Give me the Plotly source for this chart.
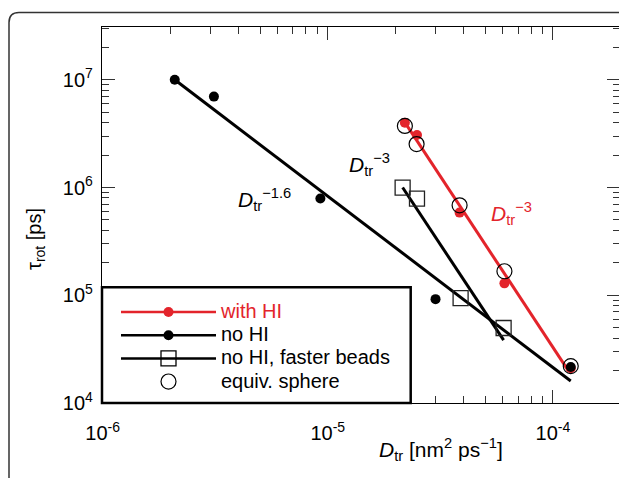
import plotly.graph_objects as go

# rotational correlation time vs translational diffusion coefficient
no_hi_D = [2.09e-6, 3.12e-6, 9.27e-6, 3.01e-5, 1.20e-4]
no_hi_tau = [1.0e7, 6.98e6, 7.9e5, 9.2e4, 2.16e4]

with_hi_D = [2.20e-5, 2.49e-5, 3.85e-5, 6.09e-5, 1.20e-4]
with_hi_tau = [4.0e6, 3.07e6, 5.85e5, 1.29e5, 2.1e4]

faster_D = [2.15e-5, 2.49e-5, 3.89e-5, 6.04e-5]
faster_tau = [1.0e6, 7.9e5, 9.4e4, 4.97e4]

sphere_D = [2.20e-5, 2.48e-5, 3.85e-5, 6.09e-5, 1.20e-4]
sphere_tau = [3.73e6, 2.53e6, 6.84e5, 1.67e5, 2.2e4]

# power-law fit lines (end points)
fit_nohi_D = [2.09e-6, 1.20e-4]
fit_nohi_tau = [1.0e7, 1.6e4]
fit_hi_D = [2.17e-5, 1.17e-4]
fit_hi_tau = [4.2e6, 2.0e4]
fit_faster_D = [2.15e-5, 6.04e-5]
fit_faster_tau = [1.0e6, 3.83e4]

x_ticks = [1e-6, 1e-5, 1e-4]
x_ticktext = ['10<sup>-6</sup>', '10<sup>-5</sup>', '10<sup>-4</sup>']
y_ticks = [1e4, 1e5, 1e6, 1e7]
y_ticktext = ['10<sup>4</sup>', '10<sup>5</sup>', '10<sup>6</sup>', '10<sup>7</sup>']

RED = '#e3242b'
FONT = 'Liberation Sans, Arial, sans-serif'

# the page body adds an 8px margin, so the figure is drawn 8px smaller
OFF = 8
W, H = 627 - OFF, 478 - OFF
L, R, T, B = 102 - OFF, 7, 27 - OFF, 75
PW, PH = W - L - R, H - T - B


# positions below are given in pixels of the reference picture
def px(x):
    return (x - 102) / PW


def py(y):
    return (403 - y) / PH


fig = go.Figure()

# fit lines
fig.add_trace(go.Scatter(x=fit_hi_D, y=fit_hi_tau, mode='lines',
                         line=dict(color=RED, width=3), showlegend=False))
fig.add_trace(go.Scatter(x=fit_nohi_D, y=fit_nohi_tau, mode='lines',
                         line=dict(color='black', width=3), showlegend=False))
fig.add_trace(go.Scatter(x=fit_faster_D, y=fit_faster_tau, mode='lines',
                         line=dict(color='black', width=3), showlegend=False))

# data points
fig.add_trace(go.Scatter(x=with_hi_D, y=with_hi_tau, mode='markers',
                         marker=dict(color=RED, size=10), showlegend=False))
fig.add_trace(go.Scatter(x=no_hi_D, y=no_hi_tau, mode='markers',
                         marker=dict(color='black', size=10), showlegend=False))
fig.add_trace(go.Scatter(x=faster_D, y=faster_tau, mode='markers',
                         marker=dict(symbol='square-open', color='#222', size=15,
                                     line=dict(width=1.3)),
                         showlegend=False))
fig.add_trace(go.Scatter(x=sphere_D, y=sphere_tau, mode='markers',
                         marker=dict(symbol='circle-open', color='black', size=15,
                                     line=dict(width=1.2)),
                         showlegend=False))

# legend entries
big = "<span style='font-size:20px'>%s</span>"
fig.add_trace(go.Scatter(x=[None], y=[None], mode='lines+markers',
                         name=big % ("<span style='color:%s'>with HI</span>" % RED),
                         line=dict(color=RED, width=2.5),
                         marker=dict(color=RED, size=10)))
fig.add_trace(go.Scatter(x=[None], y=[None], mode='lines+markers',
                         name=big % 'no HI',
                         line=dict(color='black', width=2.5),
                         marker=dict(color='black', size=10)))
fig.add_trace(go.Scatter(x=[None], y=[None], mode='lines+markers',
                         name=big % 'no HI, faster beads',
                         line=dict(color='black', width=2.5),
                         marker=dict(symbol='square-open', color='black', size=15,
                                     line=dict(width=1.3))))
fig.add_trace(go.Scatter(x=[None], y=[None], mode='markers',
                         name=big % 'equiv. sphere',
                         marker=dict(symbol='circle-open', color='black', size=15,
                                     line=dict(width=1.2))))

axis_common = dict(
    type='log',
    showline=True, linecolor='black', linewidth=1.3, mirror='ticks',
    ticks='inside', ticklen=13, tickwidth=1, tickcolor='#333',
    showgrid=False, zeroline=False,
    tickfont=dict(family=FONT, size=20, color='black'),
)
x_minor = [m * d for d in [1e-6, 1e-5, 1e-4] for m in range(2, 10)]
y_minor = [m * d for d in [1e4, 1e5, 1e6, 1e7] for m in range(2, 10)]
fig.update_xaxes(range=[-6.003, -3.702], tickvals=x_ticks, ticktext=x_ticktext,
                 ticklabelstandoff=12,
                 minor=dict(tickvals=x_minor, ticks='inside', ticklen=7, tickwidth=1,
                            tickcolor='#333', showgrid=False),
                 **axis_common)
fig.update_yaxes(range=[4, 7.49], tickvals=y_ticks, ticktext=y_ticktext,
                 ticklabelstandoff=4,
                 minor=dict(tickvals=y_minor, ticks='inside', ticklen=7, tickwidth=1,
                            tickcolor='#333', showgrid=False),
                 **axis_common)

annotations = [
    dict(x=px(236), y=py(199), text='<i>D</i><sub>tr</sub><sup>\u22121.6</sup>',
         font=dict(size=21, color='black')),
    dict(x=px(347), y=py(164), text='<i>D</i><sub>tr</sub><sup>\u22123</sup>',
         font=dict(size=21, color='black')),
    dict(x=px(489), y=py(213), text='<i>D</i><sub>tr</sub><sup>\u22123</sup>',
         font=dict(size=21, color=RED)),
]
for a in annotations:
    a.update(xref='paper', yref='paper', xanchor='left', yanchor='middle',
             showarrow=False)
    a['font']['family'] = FONT

# axis titles
annotations.append(dict(x=px(441), y=py(449), xref='paper', yref='paper',
                        text='<i>D</i><sub>tr</sub> [nm<sup>2</sup> ps<sup>\u22121</sup>]',
                        font=dict(family=FONT, size=21, color='black'),
                        showarrow=False, xanchor='center', yanchor='middle'))
annotations.append(dict(x=px(35), y=py(239), xref='paper', yref='paper',
                        text='\u03c4<sub>rot</sub> [ps]', textangle=-90,
                        font=dict(family=FONT, size=20, color='black'),
                        showarrow=False, xanchor='center', yanchor='middle'))

# outer rounded frame and legend box
fx0, fx1 = px(9), px(628)
fy1, fy0 = py(12.5), py(495)
rx, ry = 10 / PW, 10 / PH
frame = (f'M{fx0},{fy0} L{fx0},{fy1 - ry} Q{fx0},{fy1} {fx0 + rx},{fy1} '
         f'L{fx1 - rx},{fy1} Q{fx1},{fy1} {fx1},{fy1 - ry} L{fx1},{fy0}')
shapes = [
    dict(type='path', path=frame, xref='paper', yref='paper',
         line=dict(color='#333', width=1.5)),
    dict(type='rect', xref='paper', yref='paper', x0=0, x1=px(410.7),
         y0=0, y1=py(287.3), line=dict(color='black', width=2.5),
         fillcolor='white', layer='above'),
]

fig.update_layout(
    width=W, height=H,
    margin=dict(l=L, r=R, t=T, b=B),
    paper_bgcolor='white', plot_bgcolor='white',
    font=dict(family=FONT, color='black'),
    showlegend=True,
    legend=dict(x=px(116), y=py(295.5), xanchor='left', yanchor='top',
                bgcolor='rgba(0,0,0,0)', borderwidth=0, itemwidth=95,
                font=dict(family=FONT, size=15.5, color='black'),
                tracegroupgap=0),
    annotations=annotations,
    shapes=shapes,
)

fig.write_html('out.html')
